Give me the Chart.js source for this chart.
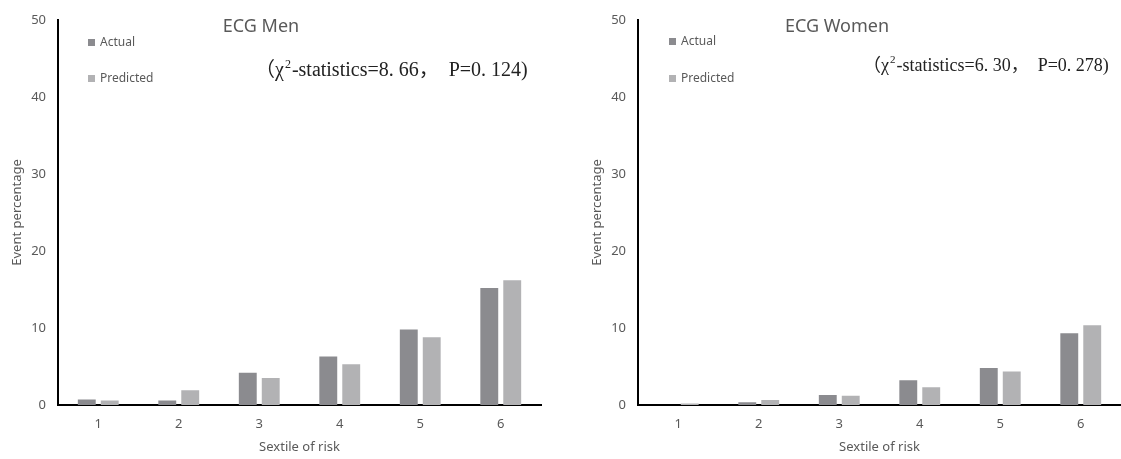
<!DOCTYPE html>
<html>
<head>
<meta charset="utf-8">
<script src="https://cdn.jsdelivr.net/npm/chart.js@4"></script>
<style>
  body { margin: 0; background: #fff; }
  #wrap { position: relative; width: 1121px; height: 459px; }
  #left { position: absolute; left: 0; top: 0; }
  #right { position: absolute; left: 560px; top: 0; }
</style>
</head>
<body>
<div id="wrap">
  <canvas id="left" width="560" height="459"></canvas>
  <canvas id="right" width="561" height="459"></canvas>
</div>
<script>
// Sextiles of risk and event percentages
const sextiles = ['1', '2', '3', '4', '5', '6'];
const seriesNames = ['Actual', 'Predicted'];
const menActual = [0.7, 0.6, 4.2, 6.3, 9.8, 15.2];
const menPredicted = [0.6, 1.9, 3.5, 5.3, 8.8, 16.2];
const womenActual = [0, 0.35, 1.3, 3.2, 4.8, 9.3];
const womenPredicted = [0.2, 0.65, 1.2, 2.3, 4.35, 10.35];
const chartTitles = ['ECG Men', 'ECG Women'];
const statTexts = ['（χ²-statistics=8. 66，  P=0. 124)', '（χ²-statistics=6. 30，  P=0. 278)'];

const actualColor = '#8b8b8f';
const predictedColor = '#b2b2b4';
const textColor = '#595959';
const sans = "'Noto Sans', 'Open Sans', sans-serif";
const serif = "'Liberation Serif', 'Noto Sans CJK SC', serif";

// title, in-plot legend and chi-square note
const notes = {
  id: 'notes',
  afterDraw(chart, args, opts) {
    const ctx = chart.ctx;
    ctx.save();
    ctx.fillStyle = textColor;
    ctx.font = '18px ' + sans;
    ctx.textAlign = 'center';
    ctx.textBaseline = 'middle';
    ctx.fillText(opts.title, opts.titleX, 27);

    ctx.font = '12px ' + sans;
    ctx.textAlign = 'left';
    chart.data.datasets.forEach((ds, i) => {
      const y = opts.legendY[i];
      ctx.fillStyle = ds.backgroundColor;
      ctx.fillRect(opts.legendX, y - 4, 7, 7);
      ctx.fillStyle = textColor;
      ctx.fillText(ds.label, opts.legendX + 12, y);
    });

    // chi-square text with a raised small "2"
    const parts = opts.stat.split('²');
    const s = opts.statSize;
    let x = opts.statX;
    ctx.fillStyle = '#222';
    ctx.font = s + 'px ' + serif;
    ctx.fillText(parts[0], x, opts.statY);
    x += ctx.measureText(parts[0]).width + 1;
    ctx.font = Math.round(s * 0.62) + 'px ' + serif;
    ctx.fillText('2', x, opts.statY - s * 0.33);
    x += ctx.measureText('2').width + 1;
    ctx.font = s + 'px ' + serif;
    ctx.fillText(parts[1], x, opts.statY);
    ctx.restore();
  }
};

function makeChart(id, actual, predicted, axisLeft, padRight, yTitlePad, note) {
  return new Chart(document.getElementById(id), {
    type: 'bar',
    data: {
      labels: sextiles,
      datasets: [
        { label: seriesNames[0], data: actual, backgroundColor: actualColor },
        { label: seriesNames[1], data: predicted, backgroundColor: predictedColor }
      ]
    },
    plugins: [notes],
    options: {
      responsive: false,
      animation: false,
      categoryPercentage: 0.57,
      barPercentage: 0.78,
      layout: { padding: { left: 0, right: padRight, top: 15, bottom: 0 } },
      plugins: {
        legend: { display: false },
        tooltip: { enabled: false },
        notes: note
      },
      scales: {
        x: {
          grid: { display: false, drawTicks: false },
          border: { display: true, color: '#000', width: 2 },
          ticks: { color: textColor, font: { family: sans, size: 13 }, padding: 11 },
          title: { display: true, text: 'Sextile of risk', color: textColor,
                   font: { family: sans, size: 13 }, padding: { top: 0, bottom: 4 } },
          afterFit: s => { s.height = 54; }
        },
        y: {
          min: 0,
          max: 50,
          grid: { display: false, drawTicks: false },
          border: { display: true, color: '#000', width: 2 },
          ticks: { stepSize: 10, color: textColor, font: { family: sans, size: 13 }, padding: 12 },
          title: { display: true, text: 'Event percentage', color: textColor,
                   font: { family: sans, size: 13 }, padding: { top: yTitlePad, bottom: 0 } },
          afterFit: s => { s.width = axisLeft; }
        }
      }
    }
  });
}

makeChart('left', menActual, menPredicted, 58, 19, 9, {
  title: chartTitles[0], titleX: 261,
  legendX: 88, legendY: [43, 79],
  stat: statTexts[0], statX: 255, statY: 71, statSize: 20
});

makeChart('right', womenActual, womenPredicted, 78, 0, 29, {
  title: chartTitles[1], titleX: 277,
  legendX: 109, legendY: [42, 79],
  stat: statTexts[1], statX: 303, statY: 66, statSize: 18
});
</script>
</body>
</html>
